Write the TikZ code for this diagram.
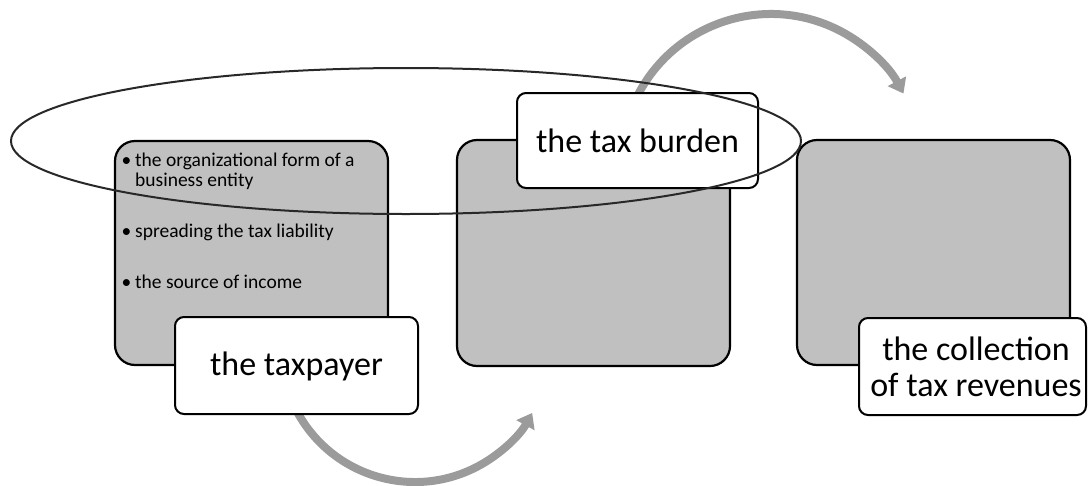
\documentclass[tikz,border=0pt]{standalone}
\usepackage{fontspec}
\setmainfont{Carlito}
\usetikzlibrary{arrows.meta}
\definecolor{boxgray}{RGB}{192,192,192}
\definecolor{arrowgray}{RGB}{155,155,155}
\definecolor{ringgray}{RGB}{40,40,40}
\tikzset{
  graybox/.style={draw=black, line width=2.2pt, fill=boxgray, rounded corners=20pt},
  whitebox/.style={draw=black, line width=2pt, fill=white, rounded corners=9pt},
  bigtext/.style={font=\fontsize{34}{40}\selectfont, align=center},
  smalltext/.style={font=\fontsize{19.5}{20}\selectfont, anchor=base west, inner sep=0pt},
  bullet/.style={font=\fontsize{19.5}{20}\selectfont, anchor=base west, inner sep=0pt},
  flowarrow/.style={draw=arrowgray, line width=8pt, -{Triangle[width=20pt,length=14pt]}},
  ring/.style={draw=ringgray, line width=2pt}
}
\begin{document}
\begin{tikzpicture}[x=1pt,y=-1pt]
\useasboundingbox (0,0) rectangle (1092,485);
% arrows (behind boxes)
\coordinate (a1s) at ({415+134*cos(151)},{348+134*sin(151)});
\coordinate (a2s) at ({771+150*cos(208)},{164+150*sin(208)});
\draw[flowarrow] (a1s) arc[start angle=151, end angle=29, radius=134];
\draw[flowarrow] (a2s) arc[start angle=208, end angle=332, radius=150];
% gray boxes
\draw[graybox] (115,141) rectangle (388,365) node[coordinate] (g1) {};
\draw[graybox] (457,140) rectangle (730,366) node[coordinate] (g2) {};
\draw[graybox] (797,140) rectangle (1070,365) node[coordinate] (g3) {};
% bullets
\node[bullet] (b1) at (121.5,166) {•};
\node[smalltext] (t1) at (135,166) {the organizational form of a};
\node[smalltext] (t1b) at (135,186) {business entity};
\node[bullet] (b2) at (121.5,237) {•};
\node[smalltext] (t2) at (135,237) {spreading the tax liability};
\node[bullet] (b3) at (121.5,288) {•};
\node[smalltext] (t3) at (135,288) {the source of income};
% white boxes
\draw[whitebox] (175,317) rectangle (418,414);
\node[bigtext] (tp) at (296.5,366) {the taxpayer};
\draw[whitebox] (517,93) rectangle (758,188);
\node[bigtext] (tb) at (637.5,141) {the tax burden};
\draw[whitebox] (859,318) rectangle (1086,415);
\node[bigtext] (tc) at (976,367) {the collection\\[-4pt]of tax revenues};
% ellipse
\draw[ring] (406,141) ellipse [x radius=395, y radius=73];
\end{tikzpicture}
\end{document}
